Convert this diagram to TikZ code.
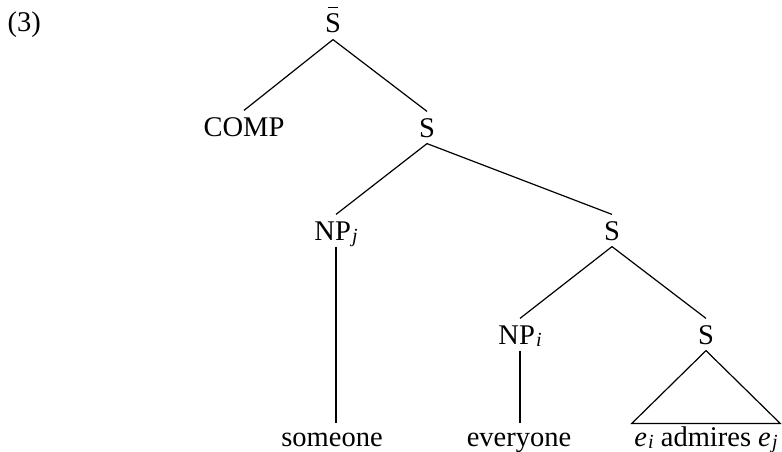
\documentclass[tikz,border=0pt]{standalone}
\usepackage{fontspec}
\setmainfont{Liberation Serif}
% S with a short bar over it
\newcommand{\barS}{\ooalign{S\cr\hidewidth\rule[0.86em]{0.35em}{0.05em}\hidewidth\cr}}
% italic index, small and slightly lowered
\newcommand{\idx}[1]{\kern0.04em\raisebox{-0.1em}{\fontsize{20}{20}\selectfont\itshape #1}}
\begin{document}
\begin{tikzpicture}[x=1pt,y=-1pt,line width=1.2pt,
  font=\fontsize{28.5}{34}\selectfont,
  cat/.style={inner xsep=0pt,inner ysep=6pt,text height=19pt,text depth=0pt,anchor=base},
  leaf/.style={inner xsep=0pt,inner ysep=3pt,text height=19pt,text depth=0pt,anchor=base}]
\useasboundingbox (0,0) rectangle (782,452);

\node[anchor=base west,inner sep=0pt] (num) at (7,32) {(3)};

% categories
\node[cat] (top)  at (333,33)  {\barS};
\node[cat] (comp) at (244,136) {COMP};
\node[cat] (s1)   at (427,137) {S};
\node[cat] (npj)  at (336,240) {NP\idx{j}};
\node[cat] (s2)   at (612,240) {S};
\node[cat] (npi)  at (520,344) {NP\idx{i}};
\node[cat] (s3)   at (706,344) {S};

% words
\node[leaf] (someone)  at (332,446) {someone};
\node[leaf] (everyone) at (519,446) {everyone};
\node[leaf,inner xsep=2pt] (clause) at (706,446) {\textit{e}\idx{i} admires \textit{e}\idx{j}};

% branches
\draw (top.south) -- (comp.north);
\draw (top.south) -- (s1.north);
\draw (s1.south) -- (npj.north);
\draw (s1.south) -- (s2.north);
\draw (s2.south) -- (npi.north);
\draw (s2.south) -- (s3.north);
\draw (npj.south) -- (npj.south |- someone.north);
\draw (npi.south) -- (npi.south |- everyone.north);
\draw (s3.south) -- (clause.north west) -- (clause.north east) -- cycle;
\end{tikzpicture}
\end{document}
